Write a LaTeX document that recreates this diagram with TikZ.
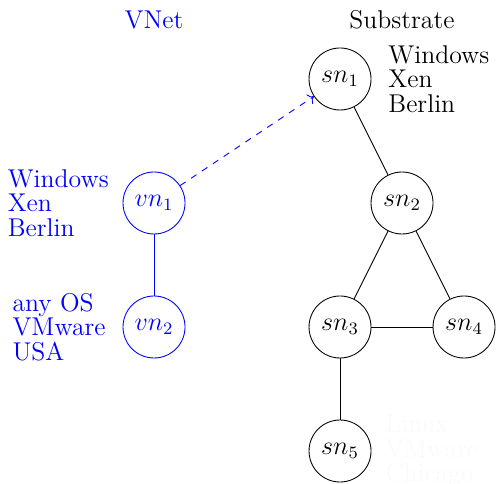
\documentclass[tikz,border=0pt]{standalone}
\usepackage{tikz}
\usetikzlibrary{arrows.meta, positioning}

\begin{document}
\begin{tikzpicture}[
    every node/.style={font=\fontsize{11.8}{11.2}\selectfont},
    vnode/.style={draw=blue, circle, minimum size=1cm, inner sep=0pt, text=blue},
    snode/.style={draw, circle, minimum size=1cm, inner sep=0pt},
    attr/.style={align=left},
    mapstyle/.style={->, dashed, blue},
]
    \useasboundingbox (-2.484,-4.532) rectangle (5.532,3.274);

    % Titles
    \node[text=blue] (vnet) at (0,2.95) {VNet};
    \node (subst) at (4,2.95) {Substrate};

    % Virtual network
    \node[vnode] (vn1) at (0,0) {$vn_1$};
    \node[vnode] (vn2) at (0,-2) {$vn_2$};
    \draw[blue] (vn1) -- (vn2);

    % Substrate network
    \node[snode] (sn1) at (3,2) {$sn_1$};
    \node[snode] (sn2) at (4,0) {$sn_2$};
    \node[snode] (sn3) at (3,-2) {$sn_3$};
    \node[snode] (sn4) at (5,-2) {$sn_4$};
    \node[snode] (sn5) at (3,-4) {$sn_5$};
    \draw (sn1) -- (sn2);
    \draw (sn2) -- (sn3);
    \draw (sn2) -- (sn4);
    \draw (sn3) -- (sn4);
    \draw (sn3) -- (sn5);

    % Mapping
    \draw[mapstyle] (vn1) -- (sn1);

    % Node attributes
    \node[attr, text=blue, left=0.1cm of vn1] (vn1attr) {Windows\\Xen\\Berlin};
    \node[attr, text=blue, left=0.15cm of vn2] (vn2attr) {any OS\\VMware\\USA};
    \node[attr, right=0.15cm of sn1] (sn1attr) {Windows\\Xen\\Berlin};
    \node[attr, text=black!2, right=0.1cm of sn5] (sn5attr) {Linux\\VMware\\Chicago};

\end{tikzpicture}
\end{document}
